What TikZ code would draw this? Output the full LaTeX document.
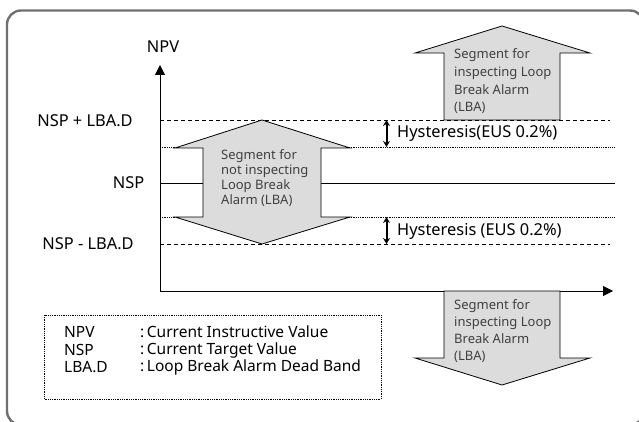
\documentclass[tikz,border=0pt]{standalone}
\usepackage{fontspec}
\setmainfont{Noto Sans}
\usetikzlibrary{arrows.meta}
\definecolor{segfill}{HTML}{DCDCDC}
\definecolor{framegray}{HTML}{707070}
\definecolor{segtextc}{HTML}{404040}
\begin{document}
\begin{tikzpicture}[x=1pt,y=-1pt,
  framebox/.style={draw=framegray, line width=2.4pt, rounded corners=14pt},
  axisline/.style={line width=1pt, -{Triangle[length=10pt,width=10pt]}},
  dashline/.style={line width=0.8pt, dash pattern=on 4pt off 3pt},
  dotline/.style={line width=0.8pt, dash pattern=on 0.8pt off 1pt},
  solidline/.style={line width=0.9pt},
  segarrow/.style={draw=black, fill=segfill, line width=0.8pt, line join=miter},
  segtext/.style={text=segtextc, font=\fontsize{13}{#1}\selectfont, align=left, anchor=west, inner sep=0pt},
  lbl/.style={font=\fontsize{16.4}{18}\selectfont, inner sep=0pt},
  leg/.style={font=\fontsize{15.5}{18}\selectfont, inner sep=0pt, anchor=west},
  hyst/.style={line width=2pt, {Stealth[length=6pt,width=7pt]}-{Stealth[length=6pt,width=7pt]}},
  legendbox/.style={draw, line width=0.7pt, dash pattern=on 0.8pt off 1pt}
]
\useasboundingbox (0,0) rectangle (639,422);
\draw[framebox] (7,10.5) rectangle (644,425);

% axes
\coordinate (O) at (160,291);
\coordinate (ytop) at (160,65);
\coordinate (xend) at (613,291);
\draw[axisline] (O) -- (ytop);
\draw[axisline] (O) -- (xend);
\node[lbl] (npv) at (163,47) {NPV};

% level lines
\coordinate (uD1) at (160,120); \coordinate (uD2) at (610,120);
\coordinate (uH1) at (160,147); \coordinate (uH2) at (615,147);
\coordinate (n1) at (160,183);  \coordinate (n2) at (615,183);
\coordinate (lH1) at (160,217); \coordinate (lH2) at (615,217);
\coordinate (lD1) at (160,244); \coordinate (lD2) at (610,244);
\draw[dashline] (uD1) -- (uD2);
\draw[dotline] (uH1) -- (uH2);
\draw[solidline] (n1) -- (n2);
\draw[dotline] (lH1) -- (lH2);
\draw[dashline] (lD1) -- (lD2);

\node[lbl] (lup) at (85,121) {NSP + LBA.D};
\node[lbl] (lnsp) at (128.5,183) {NSP};
\node[lbl] (llow) at (88,244) {NSP - LBA.D};

% segment arrows
\draw[segarrow] (262,120) -- (350,148) -- (321,148) -- (321,217) -- (350,217) -- (262,244)
  -- (175,217) -- (203,217) -- (203,148) -- (175,148) -- cycle;
\node[segtext=15] (midtxt) at (221,178) {Segment for\\not inspecting\\Loop Break\\Alarm (LBA)};

\draw[segarrow] (502,26) -- (590,53) -- (560,53) -- (560,120) -- (444,120) -- (444,53) -- (415,53) -- cycle;
\node[segtext=17.7] (uptxt) at (454,81.5) {Segment for\\inspecting Loop\\Break Alarm\\(LBA)};

\draw[segarrow] (444,291) -- (560,291) -- (560,358) -- (590,358) -- (502,385) -- (415,358) -- (444,358) -- cycle;
\node[segtext=17] (lowtxt) at (454,331) {Segment for\\inspecting Loop\\Break Alarm\\(LBA)};

% hysteresis
\coordinate (h1a) at (386.5,120); \coordinate (h1b) at (386.5,147);
\coordinate (h2a) at (386.5,217); \coordinate (h2b) at (386.5,244);
\draw[hyst] (h1a) -- (h1b);
\draw[hyst] (h2a) -- (h2b);
\node[lbl, anchor=west] (hy1) at (397,133) {Hysteresis(EUS 0.2\%)};
\node[lbl, anchor=west] (hy2) at (397,231) {Hysteresis (EUS 0.2\%)};

% legend
\draw[legendbox] (44,315) rectangle (381,399);
\node[leg] (k1) at (64,332) {NPV};
\node[leg] (k2) at (64,350) {NSP};
\node[leg] (k3) at (64,367.5) {LBA.D};
\node[leg] (v1) at (140,332) {:\,Current Instructive Value};
\node[leg] (v2) at (140,350) {:\,Current Target Value};
\node[leg] (v3) at (140,367.5) {:\,Loop Break Alarm Dead Band};
\end{tikzpicture}
\end{document}
